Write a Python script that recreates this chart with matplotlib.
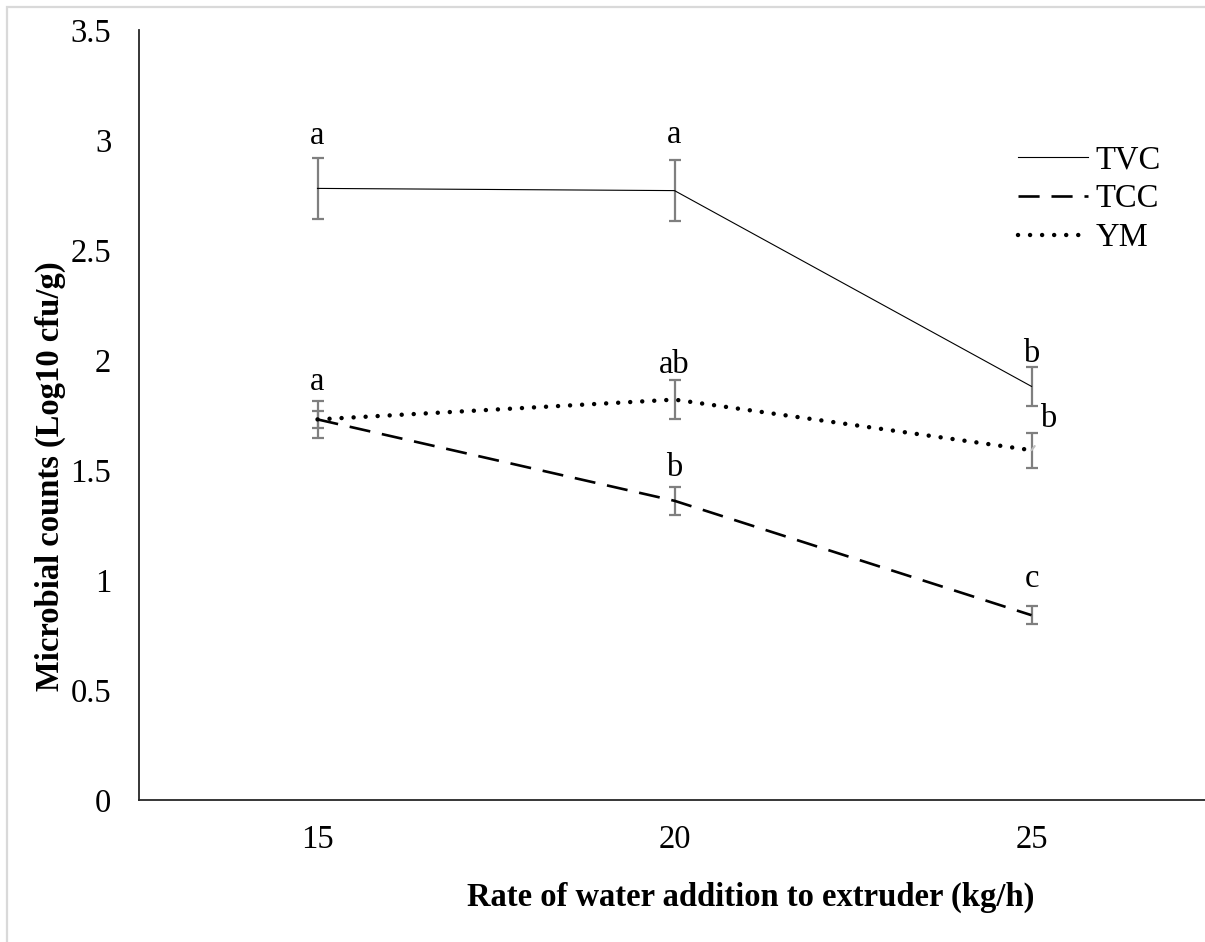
import matplotlib.pyplot as plt
from matplotlib.lines import Line2D
from matplotlib.patches import Rectangle
from matplotlib.ticker import FuncFormatter

FS = 23.5

plt.rcParams.update({
    "font.family": ["Liberation Serif", "DejaVu Serif"],
    "font.size": FS,
})

# water addition rate (kg/h)
rates = ["15", "20", "25"]

# mean counts, Log10 cfu/g
tvc = [2.78, 2.77, 1.88]
tcc = [1.73, 1.36, 0.84]
ym = [1.73, 1.82, 1.59]

# standard deviation
tvc_err = [0.14, 0.14, 0.09]
tcc_err = [0.04, 0.065, 0.04]
ym_err = [0.085, 0.09, 0.08]

# significance letters
tvc_sig = ["a", "a", "b"]
tcc_sig = ["", "b", "c"]
ym_sig = ["a", "ab", "b"]

fig = plt.figure(figsize=(12.05, 9.42), dpi=100)
ax = fig.add_axes([139 / 1205, 142 / 942, 1071 / 1205, 770 / 942])

x = [1, 2, 3]
err_kw = dict(fmt="none", ecolor="#7f7f7f", elinewidth=1.6, capsize=4.5,
              capthick=1.6, zorder=2)
ax.errorbar(x, tvc, yerr=tvc_err, **err_kw)
ax.errorbar(x, tcc, yerr=tcc_err, **err_kw)
ax.errorbar(x, ym, yerr=ym_err, **err_kw)

ax.plot(x, tvc, color="black", lw=0.8, zorder=3)
ax.plot(x, tcc, color="black", lw=1.9, linestyle=(0, (8, 4.5)), zorder=3)
ax.plot(x, ym, color="black", lw=3.2, linestyle=(0, (0.01, 2.7)),
        dash_capstyle="round", zorder=3)

# letters above each error bar (pixel offsets from the bar top)
tvc_dy = [14, 17, 5]
tcc_dy = [0, 11, 19]
ym_dy = [11, 7, 0]

def letters(vals, errs, sig, dys):
    for xi, v, e, s, dy in zip(x, vals, errs, sig, dys):
        if s:
            ax.annotate(s, xy=(xi, v + e), xytext=(0, dy),
                        textcoords="offset pixels", ha="center", va="baseline",
                        fontsize=FS)

letters(tvc, tvc_err, tvc_sig, tvc_dy)
letters(tcc, tcc_err, tcc_sig, tcc_dy)
letters(ym[:2], ym_err[:2], ym_sig[:2], ym_dy[:2])

# last YM letter sits off to the side with a leader line
ax.annotate(ym_sig[2], xy=(x[2], ym[2]), xytext=(17, 31),
            textcoords="offset pixels", ha="center", va="center", fontsize=FS,
            arrowprops=dict(arrowstyle="-", color="#bfbfbf", lw=1.5,
                            shrinkA=8, shrinkB=0, relpos=(0.2, 0.0)))

ax.set_xlim(0.5, 3.5)
ax.set_ylim(0, 3.5)
ax.set_xticks(x)
ax.set_xticklabels(rates)
ax.set_yticks([0, 0.5, 1, 1.5, 2, 2.5, 3, 3.5])
ax.yaxis.set_major_formatter(FuncFormatter(lambda v, p: f"{v:g}"))
ax.tick_params(axis="both", length=0, labelsize=FS)
ax.tick_params(axis="x", pad=18)
ax.tick_params(axis="y", pad=20)

for side in ("top", "right"):
    ax.spines[side].set_visible(False)
for side in ("left", "bottom"):
    ax.spines[side].set_linewidth(1.3)
    ax.spines[side].set_color("#262626")

fig.text(751 / 1205, 1 - 897 / 942, "Rate of water addition to extruder (kg/h)",
         ha="center", va="center", fontsize=FS, fontweight="bold")
fig.text(50 / 1205, 1 - 476 / 942, "Microbial counts (Log10 cfu/g)",
         ha="center", va="center", rotation=90, fontsize=FS, fontweight="bold")

handles = [
    Line2D([], [], color="black", lw=0.8),
    Line2D([], [], color="black", lw=1.9, linestyle=(0, (8, 4.5))),
    Line2D([], [], color="black", lw=3.2, linestyle=(0, (0.01, 2.7)),
           dash_capstyle="round"),
]
ax.legend(handles, ["TVC", "TCC", "YM"], loc="upper left",
          bbox_to_anchor=(1018 / 1205, 1 - 145 / 942),
          bbox_transform=fig.transFigure, frameon=False, fontsize=FS,
          handlelength=2.15, handletextpad=0.22, labelspacing=0.26,
          borderaxespad=0, borderpad=0)

# light frame around the chart area
fig.patches.append(Rectangle((7 / 1205, -0.05), 1.1, 1 - 7 / 942 + 0.05,
                             transform=fig.transFigure, fill=False,
                             edgecolor="#d9d9d9", lw=1.6))

fig.savefig("out.png", dpi=100)
